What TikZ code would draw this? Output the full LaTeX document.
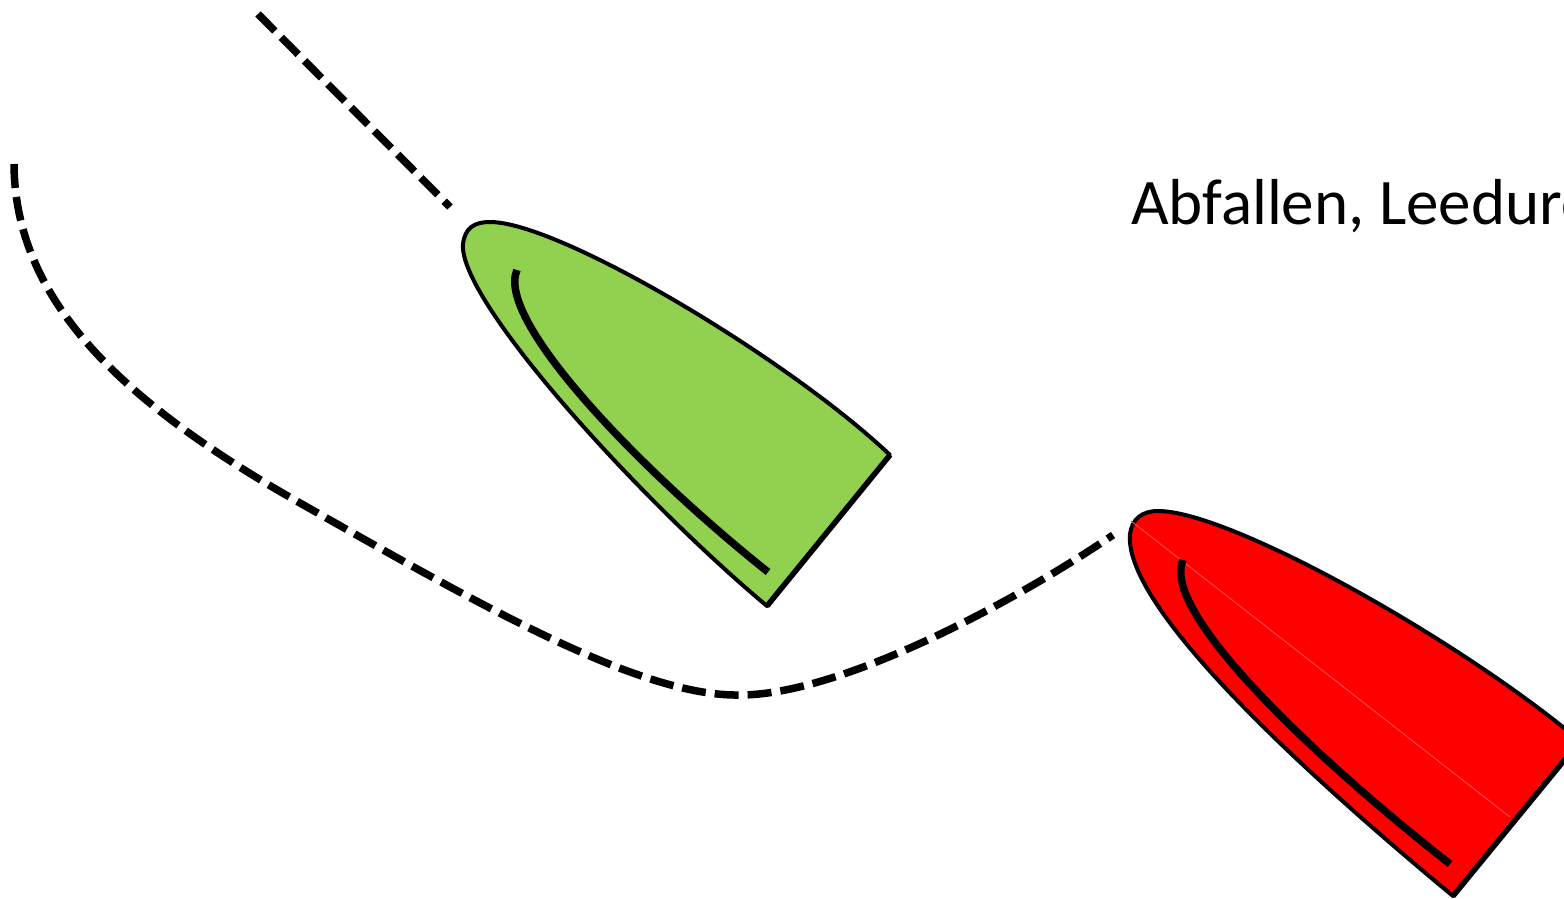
\documentclass[tikz,border=0pt]{standalone}
\usepackage{fontspec}
\setmainfont{Carlito}
\definecolor{boatgreen}{RGB}{146,208,80}
\definecolor{boatred}{RGB}{255,0,0}
\definecolor{faintred}{RGB}{255,70,70}
\begin{document}
\begin{tikzpicture}[x=1pt,y=-1pt,
  track/.style={line width=7.5pt, dash pattern=on 24pt off 9pt},
  hull/.style={line width=4pt, line join=round},
  sternline/.style={line width=5.5pt},
  tillerline/.style={line width=7.5pt},
  caption/.style={anchor=base west, inner sep=0pt, font=\fontsize{65}{78}\selectfont}
]
\useasboundingbox (0,0) rectangle (1564,899);
\clip (0,0) rectangle (1564,899);

% tracks
\coordinate (t1s) at (258,14);
\coordinate (t1e) at (450,207);
\draw[track] (t1s) -- (t1e);

\coordinate (t2s) at (14,164);
\coordinate (t2a) at (300,503);
\coordinate (t2b) at (740,695);
\coordinate (t2e) at (1113,535);
\draw[track] (t2s) .. controls (15,300) and (120,401) .. (t2a)
  .. controls (480,605) and (640,697) .. (t2b)
  .. controls (840,695) and (1013,603) .. (t2e);

% green boat
\coordinate (gs1) at (890,455);
\coordinate (gs2) at (767,606);
\draw[hull, fill=boatgreen] (gs1) -- (gs2)
  .. controls (640,500) and (458,300) .. (463,244)
  .. controls (465,228) and (474,222) .. (490,222)
  .. controls (560,222) and (790,360) .. (gs1) -- cycle;
\draw[sternline] (gs1) -- (gs2);
\draw[tillerline] (768,572) .. controls (640,470) and (495,320) .. (517,270);

% red boat
\coordinate (rs1) at (1580,741);
\coordinate (rs2) at (1453,896);
\draw[hull, fill=boatred] (rs1) -- (rs2)
  .. controls (1318,784) and (1123,610) .. (1130,534)
  .. controls (1132,519) and (1142,511) .. (1158,511)
  .. controls (1230,511) and (1460,640) .. (rs1) -- cycle;
\draw[sternline] (rs1) -- (rs2);
\draw[faintred, line width=1pt] (1131,521) -- (1510,817);
\draw[tillerline] (1450,864) .. controls (1315,758) and (1160,612) .. (1183,560);

% caption
\node[caption] (label) at (1131,224) {Abfallen, Leedurc};
\end{tikzpicture}
\end{document}
